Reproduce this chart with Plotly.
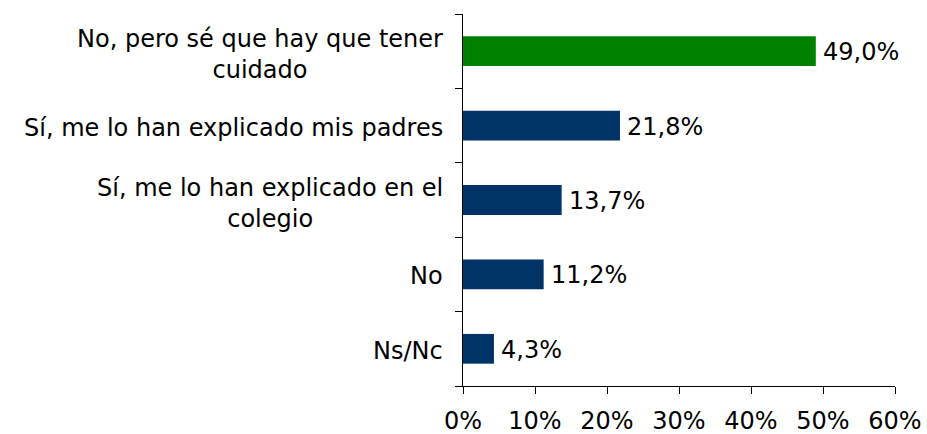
import plotly.graph_objects as go

categories = ["No, pero sé que hay que tener<br>cuidado",
              "Sí, me lo han explicado mis padres",
              "Sí, me lo han explicado en el<br>colegio",
              "No",
              "Ns/Nc"]
values = [49.0, 21.8, 13.7, 11.2, 4.3]
colors = ["#008000", "#003366", "#003366", "#003366", "#003366"]
x_ticks = [0, 10, 20, 30, 40, 50, 60]
x_tick_labels = ["0%", "10%", "20%", "30%", "40%", "50%", "60%"]

FONT = "DejaVu Sans"
FS = 24

ids = list(range(len(categories)))
labels_txt = [f"{v:.1f}".replace(".", ",") + "%" for v in values]

fig = go.Figure(go.Bar(
    x=values, y=ids, orientation="h",
    marker=dict(color=colors, line=dict(width=0)),
    cliponaxis=False, hoverinfo="skip",
))

for i, (v, t) in enumerate(zip(values, labels_txt)):
    fig.add_annotation(x=v, xref="x", y=i, yref="y", text=t,
                       showarrow=False, xanchor="left", xshift=5, yshift=-1,
                       font=dict(family=FONT, size=FS, color="#000000"))

for i, c in enumerate(categories):
    n = c.count("<br>") + 1
    fig.add_annotation(x=0, xref="paper", y=i, yref="y", text=c,
                       showarrow=False, xanchor="right", align="center",
                       xshift=-18, yshift=-3 if n > 1 else -2,
                       font=dict(family=FONT, size=FS, color="#000000"))

fig.update_layout(
    template="none",
    width=927, height=434,
    margin=dict(l=463, r=32, t=14, b=48),
    paper_bgcolor="white", plot_bgcolor="white",
    bargap=0.6, showlegend=False,
    font=dict(family=FONT, size=FS, color="#000000"),
)
fig.update_xaxes(range=[0, 60], tickvals=x_ticks, ticktext=x_tick_labels,
                 automargin=False,
                 showgrid=False, zeroline=False, showline=True, linecolor="#000000",
                 linewidth=1, ticks="outside", ticklen=7, tickcolor="#000000",
                 ticklabelstandoff=6,
                 tickfont=dict(family=FONT, size=FS, color="#000000"))
fig.update_yaxes(range=[4.5, -0.5], tickvals=[-0.5, 0.5, 1.5, 2.5, 3.5, 4.5],
                 ticktext=[""] * 6, showgrid=False, zeroline=False,
                 automargin=False,
                 showline=True, linecolor="#000000", linewidth=1,
                 ticks="outside", ticklen=7, tickcolor="#000000")

fig.write_html("out.html", config={"displayModeBar": False},
               post_script="document.body.style.margin='0';document.body.style.overflow='hidden';")
